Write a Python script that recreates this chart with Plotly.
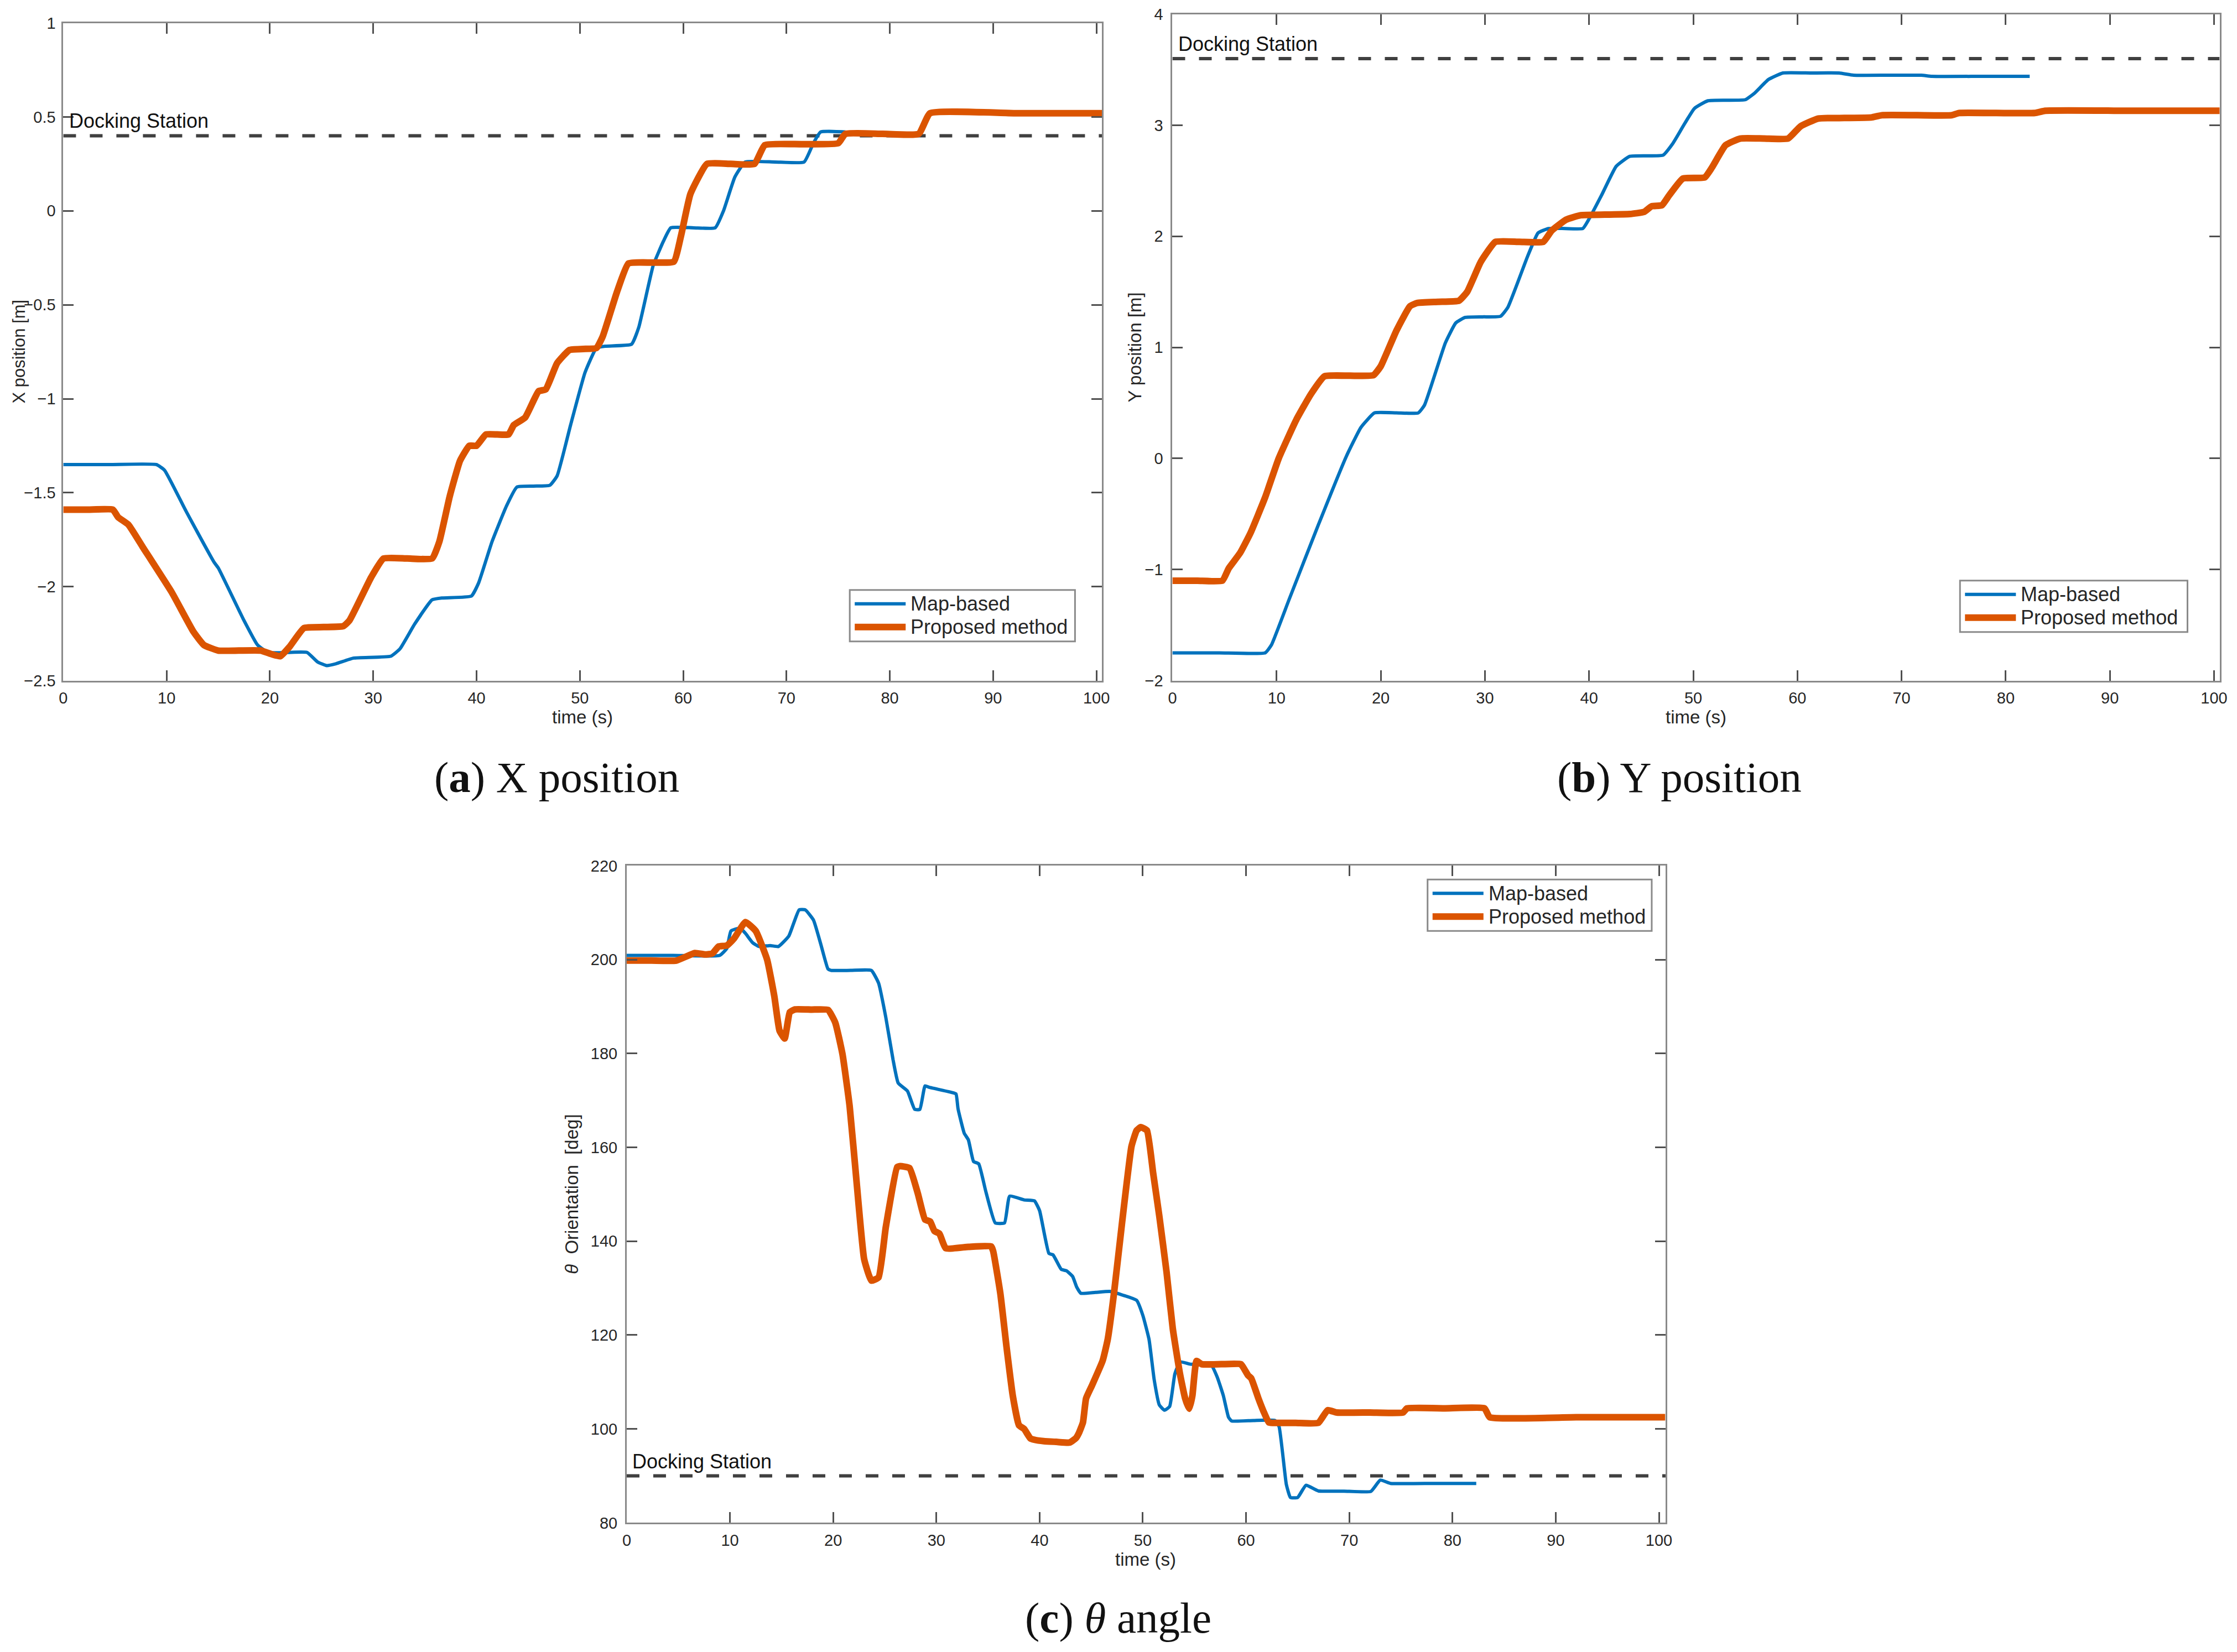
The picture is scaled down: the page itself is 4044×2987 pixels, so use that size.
import plotly.graph_objects as go

W, H = 4044, 2987
OFF = 8  # default body margin of the html page
FW, FH = W - 2 * OFF, H - 2 * OFF
# empirical correction between intended page pixels and the captured picture
SX, DX = 0.994, 7.7
SY, DY = 0.990, 15.5

# ---------------- data: (a) X position ----------------
t_map_a = [0, 4.5, 9.0, 9.8, 11.9, 14.6, 15.0, 17.4, 18.8, 19.8, 21.7, 23.6, 24.6, 25.5, 26.4,
           28.1, 31.7, 32.6, 34.0, 35.7, 36.7, 39.5, 40.2, 41.5, 42.9, 43.9, 45.5, 47.1, 47.8,
           49.1, 50.5, 51.6, 52.5, 55.0, 55.7, 57.1, 58.1, 58.8, 61.0, 63.1, 63.9, 65.0, 66.0,
           68.9, 71.7, 72.6, 73.3, 75.7, 76.5, 79.5, 82.4]
x_map_a = [-1.35, -1.35, -1.35, -1.38, -1.60, -1.87, -1.90, -2.17, -2.31, -2.35, -2.35, -2.35,
           -2.40, -2.42, -2.41, -2.38, -2.37, -2.33, -2.20, -2.07, -2.06, -2.05, -1.98, -1.76,
           -1.57, -1.47, -1.465, -1.46, -1.41, -1.14, -0.86, -0.73, -0.72, -0.71, -0.62, -0.29,
           -0.16, -0.09, -0.09, -0.09, 0.0, 0.18, 0.26, 0.26, 0.26, 0.36, 0.42, 0.42, 0.41,
           0.41, 0.41]
t_prop_a = [0, 2.4, 4.8, 5.3, 6.3, 7.7, 10.5, 12.6, 13.6, 15.0, 17.0, 19.1, 20.2, 21.0, 21.9,
            23.3, 25.2, 27.1, 27.7, 29.8, 31.0, 33.3, 35.7, 36.4, 37.4, 38.4, 39.3, 40.0, 40.9,
            42.0, 43.1, 43.6, 44.7, 46.0, 46.7, 47.8, 49.0, 50.3, 51.6, 52.2, 53.6, 54.7, 57.0,
            59.1, 59.8, 60.7, 62.3, 64.6, 66.9, 67.9, 71.5, 75.0, 75.7, 79.3, 82.8, 83.9, 92.0,
            100.6]
x_prop_a = [-1.59, -1.59, -1.59, -1.63, -1.67, -1.79, -2.03, -2.24, -2.31, -2.34, -2.34, -2.34,
            -2.36, -2.37, -2.32, -2.22, -2.215, -2.21, -2.18, -1.95, -1.85, -1.85, -1.85, -1.76,
            -1.52, -1.33, -1.25, -1.25, -1.19, -1.19, -1.19, -1.14, -1.10, -0.96, -0.95, -0.81,
            -0.74, -0.735, -0.73, -0.67, -0.43, -0.28, -0.275, -0.27, -0.13, 0.09, 0.25, 0.25,
            0.25, 0.35, 0.355, 0.36, 0.41, 0.41, 0.41, 0.52, 0.52, 0.52]
dock_a = 0.40

# ---------------- data: (b) Y position ----------------
t_map_b = [0, 4.5, 8.9, 9.5, 11.2, 14.0, 16.7, 18.1, 19.4, 21.5, 23.6, 24.2, 26.2, 27.2, 28.1,
           29.8, 31.5, 32.2, 34.1, 35.1, 36.1, 37.7, 39.4, 39.9, 41.2, 42.6, 43.9, 45.5, 47.1,
           48.0, 50.1, 51.4, 53.2, 55.0, 55.9, 57.2, 58.6, 61.3, 64.0, 65.4, 68.6, 71.9, 72.9,
           77.6, 82.3]
y_map_b = [-1.75, -1.75, -1.75, -1.68, -1.27, -0.60, 0.02, 0.28, 0.41, 0.41, 0.41, 0.48, 1.04,
           1.22, 1.27, 1.275, 1.28, 1.36, 1.82, 2.03, 2.07, 2.07, 2.07, 2.14, 2.37, 2.63, 2.72,
           2.725, 2.73, 2.83, 3.15, 3.22, 3.225, 3.23, 3.29, 3.41, 3.47, 3.47, 3.47, 3.45, 3.45,
           3.45, 3.44, 3.44, 3.44]
t_prop_b = [0, 2.4, 4.8, 5.4, 6.5, 7.5, 8.9, 10.2, 11.9, 13.3, 14.6, 17.0, 19.3, 20.0, 21.5,
            22.8, 23.5, 25.5, 27.5, 28.3, 29.6, 31.0, 33.3, 35.6, 36.4, 37.8, 39.2, 41.5, 43.9,
            45.3, 46.0, 47.0, 47.7, 49.0, 51.1, 51.8, 53.1, 54.5, 56.8, 59.1, 60.3, 62.0, 64.5,
            67.1, 68.1, 71.5, 74.8, 75.5, 79.1, 82.8, 83.8, 92.0, 100.6]
y_prop_b = [-1.10, -1.10, -1.10, -0.99, -0.85, -0.67, -0.35, 0.0, 0.35, 0.58, 0.74, 0.745, 0.75,
            0.83, 1.15, 1.37, 1.40, 1.41, 1.42, 1.50, 1.77, 1.95, 1.95, 1.95, 2.05, 2.15, 2.19,
            2.195, 2.20, 2.22, 2.27, 2.28, 2.37, 2.52, 2.53, 2.62, 2.82, 2.88, 2.88, 2.88, 2.99,
            3.06, 3.065, 3.07, 3.09, 3.09, 3.09, 3.11, 3.11, 3.11, 3.13, 3.13, 3.13]
dock_b = 3.60

# ---------------- data: (c) theta angle ----------------
t_map_c = [0, 4.5, 9.0, 9.7, 10.1, 11.0, 11.5, 12.2, 12.8, 13.9, 14.7, 15.7, 16.7, 17.3, 18.1,
           18.8, 19.5, 19.8, 21.7, 23.7, 24.4, 25.1, 25.8, 26.3, 27.2, 27.9, 28.4, 28.9, 29.3,
           31.5, 31.9, 32.1, 32.7, 33.1, 33.6, 34.1, 34.8, 35.7, 36.6, 37.1, 38.5, 39.5, 40.0,
           40.9, 41.3, 42.1, 42.6, 43.2, 43.6, 44.0, 45.4, 46.8, 47.8, 49.4, 50.0, 50.6, 51.1,
           51.6, 52.1, 52.6, 53.1, 53.6, 54.6, 56.6, 57.2, 57.8, 58.3, 58.6, 60.7, 62.8, 63.2,
           63.9, 64.3, 65.0, 65.8, 67.0, 69.5, 72.1, 73.0, 74.0, 78.1, 82.3]
a_map_c = [200.9, 200.9, 200.9, 202.4, 206.1, 206.7, 205.6, 203.6, 202.8, 203.0, 202.8, 205.0,
           210.6, 210.6, 208.4, 203.3, 198.0, 197.7, 197.7, 197.7, 195.0, 187.7, 178.7, 173.7,
           172.0, 168.1, 168.1, 173.1, 172.8, 171.7, 171.4, 168.2, 163.0, 161.6, 157.0, 156.5,
           150.5, 143.9, 143.9, 149.6, 148.8, 148.6, 146.5, 137.4, 137.1, 134.0, 133.7, 132.5,
           130.2, 128.9, 129.1, 129.3, 128.7, 127.4, 124.2, 119.1, 110.5, 105.1, 104.0, 104.8,
           111.7, 114.3, 113.8, 113.7, 111.1, 107.1, 102.5, 101.7, 101.8, 101.8, 100.5, 88.2,
           85.4, 85.4, 88.0, 86.8, 86.75, 86.7, 89.1, 88.4, 88.4, 88.4]
t_prop_c = [0, 2.4, 4.8, 6.6, 7.6, 8.3, 8.9, 9.7, 10.4, 11.5, 12.5, 13.6, 14.3, 14.8, 15.3,
            15.8, 16.3, 17.9, 19.5, 20.2, 20.9, 21.6, 22.3, 23.0, 23.7, 24.4, 25.1, 26.2, 26.5,
            27.4, 28.2, 28.9, 29.4, 29.8, 30.3, 30.9, 33.1, 35.3, 35.5, 36.2, 36.8, 37.4, 38.0,
            38.5, 39.1, 39.5, 40.4, 41.6, 42.9, 43.5, 43.8, 44.2, 44.5, 45.1, 46.1, 46.6, 47.2,
            48.0, 48.9, 49.4, 49.8, 50.4, 51.0, 51.6, 52.3, 52.9, 53.6, 54.1, 54.5, 54.8, 55.2,
            55.7, 57.6, 59.5, 59.9, 60.2, 60.5, 61.2, 61.7, 62.2, 62.6, 64.8, 67.0, 67.9, 68.8,
            72.0, 75.2, 75.6, 79.3, 83.1, 83.6, 92.0, 100.6]
a_prop_c = [199.8, 199.8, 199.8, 201.4, 201.1, 201.3, 202.8, 203.0, 204.5, 208.0, 206.1, 200.0,
            192.2, 184.9, 183.2, 188.8, 189.4, 189.35, 189.3, 186.6, 179.9, 168.7, 151.9, 136.2,
            131.6, 132.3, 143.0, 155.8, 156.0, 155.6, 150.2, 144.6, 144.2, 142.2, 141.6, 138.5,
            138.8, 138.9, 137.9, 128.8, 117.4, 107.1, 100.8, 100.0, 98.0, 97.7, 97.4, 97.25,
            97.1, 98.0, 99.1, 101.4, 106.5, 109.4, 114.5, 119.1, 128.8, 144.2, 160.2, 163.6,
            164.3, 163.6, 154.5, 145.3, 133.4, 121.4, 111.7, 106.5, 104.3, 107.1, 114.5, 113.8,
            113.8, 113.8, 112.5, 111.4, 110.8, 106.5, 103.7, 101.4, 101.3, 101.3, 101.3, 104.0,
            103.5, 103.5, 103.5, 104.4, 104.4, 104.4, 102.5, 102.5, 102.5]
dock_c = 90.0

series_names = ["Map-based", "Proposed method"]
x_ticks_time = [0, 10, 20, 30, 40, 50, 60, 70, 80, 90, 100]

# ---------------- styling ----------------
BLUE = "#0072BD"
ORANGE = "#DB5400"
DOCK = "#404040"
SANS = "Liberation Sans, Arial, sans-serif"
SERIF = "Liberation Serif, Times New Roman, serif"
TXT = "#262626"


def px_x(p):
    q = (p - DX) / SX
    return (q - OFF) / FW


def px_y(p):
    q = (p - DY) / SY
    return 1 - (q - OFF) / FH


fig = go.Figure()

panels = [
    ("x", "y", t_map_a, x_map_a, t_prop_a, x_prop_a, dock_a),
    ("x2", "y2", t_map_b, y_map_b, t_prop_b, y_prop_b, dock_b),
    ("x3", "y3", t_map_c, a_map_c, t_prop_c, a_prop_c, dock_c),
]
xmax = [100.55, 100.53, 100.64]

for i, (xa, ya, tm, vm, tp, vp, dk) in enumerate(panels):
    fig.add_trace(go.Scatter(x=[0, xmax[i]], y=[dk, dk], mode="lines", xaxis=xa, yaxis=ya,
                             line=dict(color=DOCK, width=6, dash="23px,25px"),
                             showlegend=False, hoverinfo="skip"))
    fig.add_trace(go.Scatter(x=tm, y=vm, mode="lines", name=series_names[0], xaxis=xa, yaxis=ya,
                             line=dict(color=BLUE, width=6, shape="spline", smoothing=0.4),
                             showlegend=False))
    fig.add_trace(go.Scatter(x=tp, y=vp, mode="lines", name=series_names[1], xaxis=xa, yaxis=ya,
                             line=dict(color=ORANGE, width=12, shape="spline", smoothing=0.4),
                             showlegend=False))

axis_common = dict(showgrid=False, zeroline=False, showline=True, linecolor="#8a8a8a",
                   linewidth=3, mirror="ticks", ticks="inside", ticklen=19, tickwidth=2.5,
                   tickcolor="#505050", tickfont=dict(family=SANS, size=29, color=TXT))

dom = {
    "a": ([114, 1991], [41, 1231]),
    "b": ([2118, 4010], [25, 1231]),
    "c": ([1132, 3009], [1566, 2755]),
}


def xd(k):
    return [px_x(dom[k][0][0]), px_x(dom[k][0][1])]


def yd(k):
    return [px_y(dom[k][1][1]), px_y(dom[k][1][0])]


fig.update_layout(
    width=FW, height=FH, autosize=False,
    margin=dict(l=0, r=0, t=0, b=0),
    paper_bgcolor="white", plot_bgcolor="white",
    showlegend=False,
    xaxis=dict(domain=xd("a"), range=[0, xmax[0]], tickvals=x_ticks_time, anchor="y",
               ticklabelstandoff=4, **axis_common),
    yaxis=dict(domain=yd("a"), range=[-2.5, 1], dtick=0.5, tick0=0, anchor="x",
               ticklabelstandoff=5, **axis_common),
    xaxis2=dict(domain=xd("b"), range=[0, xmax[1]], tickvals=x_ticks_time, anchor="y2",
                ticklabelstandoff=4, **axis_common),
    yaxis2=dict(domain=yd("b"), range=[-2, 4], dtick=1, tick0=0, anchor="x2",
                ticklabelstandoff=8, **axis_common),
    xaxis3=dict(domain=xd("c"), range=[0, xmax[2]], tickvals=x_ticks_time, anchor="y3",
                ticklabelstandoff=4, **axis_common),
    yaxis3=dict(domain=yd("c"), range=[80, 220], dtick=20, tick0=80, anchor="x3",
                ticklabelstandoff=8, **axis_common),
)

ann = []
shapes = []

# Docking Station labels
for xa, ya, dk in [("x", "y", dock_a), ("x2", "y2", dock_b), ("x3", "y3", dock_c)]:
    ann.append(dict(text="Docking Station", xref=xa, yref=ya, x=0.45, y=dk,
                    xanchor="left", yanchor="bottom", yshift=4, showarrow=False,
                    font=dict(family=SANS, size=36, color="#111111")))

# axis titles
for cx, cy in [(1052, 1297), (3064, 1297), (2070, 2821)]:
    ann.append(dict(text="time (s)", xref="paper", yref="paper", x=px_x(cx), y=px_y(cy),
                    xanchor="center", yanchor="middle", showarrow=False,
                    font=dict(family=SANS, size=33, color=TXT)))
ann.append(dict(text="X position [m]", xref="paper", yref="paper", x=0, y=px_y(636),
                xanchor="left", yanchor="middle", showarrow=False, textangle=-90, borderpad=0,
                font=dict(family=SANS, size=31, color=TXT)))
for txt, cx, cy in [("Y position [m]", 2050, 628),
                    ("<i>θ</i>\u00a0\u00a0Orientation\u00a0\u00a0[deg]", 1033, 2160)]:
    ann.append(dict(text=txt, xref="paper", yref="paper", x=px_x(cx), y=px_y(cy),
                    xanchor="center", yanchor="middle", showarrow=False, textangle=-90,
                    font=dict(family=SANS, size=33, color=TXT)))

# captions
for txt, cx, cy in [("(<b>a</b>) X position", 1006, 1406),
                    ("(<b>b</b>) Y position", 3034, 1406),
                    ("(<b>c</b>) <i>θ</i> angle", 2020, 2927)]:
    ann.append(dict(text=txt, xref="paper", yref="paper", x=px_x(cx), y=px_y(cy),
                    xanchor="center", yanchor="middle", showarrow=False,
                    font=dict(family=SERIF, size=79, color="#111111")))

# legends (box, line samples, labels)
for left, top, width in [(1535, 1067, 407), (3541, 1050, 411), (2579, 1591, 405)]:
    shapes.append(dict(type="rect", xref="paper", yref="paper",
                       x0=px_x(left), x1=px_x(left + width), y0=px_y(top + 93), y1=px_y(top),
                       line=dict(color="#8a8a8a", width=3), fillcolor="white", layer="above"))
    for j, (col, lw) in enumerate([(BLUE, 6), (ORANGE, 12)]):
        yy = top + 25 + 42 * j
        shapes.append(dict(type="line", xref="paper", yref="paper",
                           x0=px_x(left + 9), x1=px_x(left + 101), y0=px_y(yy), y1=px_y(yy),
                           line=dict(color=col, width=lw), layer="above"))
        ann.append(dict(text=series_names[j], xref="paper", yref="paper",
                        x=px_x(left + 108), y=px_y(yy), xanchor="left", yanchor="middle",
                        showarrow=False, font=dict(family=SANS, size=36, color=TXT)))

fig.update_layout(annotations=ann, shapes=shapes)
fig.write_html("out.html")
